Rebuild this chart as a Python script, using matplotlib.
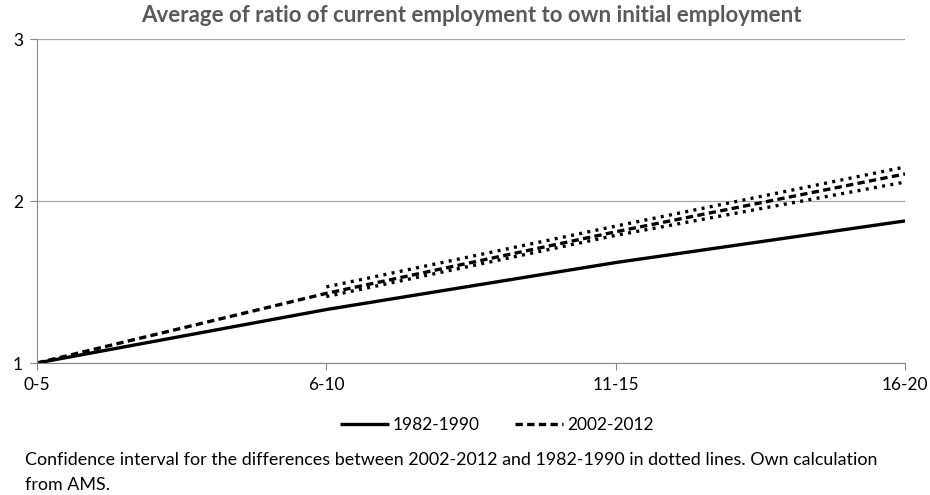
import numpy as np
import matplotlib
matplotlib.use('Agg')
import matplotlib.pyplot as plt

plt.rcParams['font.family'] = ['Lato', 'DejaVu Sans']

# date
categorii = ['0-5', '6-10', '11-15', '16-20']
val_1982 = [1.00, 1.33, 1.62, 1.877]
val_2002 = [1.00, 1.43, 1.81, 2.167]
ci_sus = [1.47, 1.845, 2.21]    # de la 6-10 incolo
ci_jos = [1.41, 1.788, 2.117]

x = np.arange(len(categorii))

fig = plt.figure(figsize=(9.3, 4.95), dpi=100)
ax = fig.add_axes([37 / 930, 1 - 363 / 495, (905 - 37) / 930, (363 - 39) / 495])

ax.plot(x, val_1982, color='black', linewidth=2.4, linestyle='-', label='1982-1990',
        solid_capstyle='butt')
ax.plot(x, val_2002, color='black', linewidth=2.4, linestyle=(0, (2.2, 1.3)), label='2002-2012')
ax.plot(x[1:], ci_sus, color='black', linewidth=2.4, linestyle=(0, (0.9, 1.6)))
ax.plot(x[1:], ci_jos, color='black', linewidth=2.4, linestyle=(0, (0.9, 1.6)))

ax.set_xlim(0, 3)
ax.set_ylim(1, 3)
ax.set_xticks(x)
ax.set_xticklabels(categorii)
ax.set_yticks([1, 2, 3])

# grila orizontala
ax.grid(axis='y', color='#a6a6a6', linewidth=0.9)
ax.set_axisbelow(True)

for s in ['top', 'right']:
    ax.spines[s].set_visible(False)
ax.spines['left'].set_color('#868686')
ax.spines['bottom'].set_color('#868686')
ax.tick_params(axis='both', direction='out', length=5, color='#868686',
               labelsize=12.5, labelcolor='black', pad=5)

ax.set_title('Average of ratio of current employment to own initial employment',
             fontsize=16, fontweight='bold', color='#595959', pad=12)

fig.legend(loc='center', bbox_to_anchor=(497 / 930, 1 - 425 / 495), ncol=2, frameon=False,
           fontsize=12.5, handlelength=2.8, handletextpad=0.25, columnspacing=2.0)

fig.text(25 / 930, 1 - 460 / 495,
         'Confidence interval for the differences between 2002-2012 and 1982-1990 in dotted lines. Own calculation',
         fontsize=12.9, va='center')
fig.text(25 / 930, 1 - 485 / 495, 'from AMS.', fontsize=12.9, va='center')

fig.savefig('out.png', dpi=100)
